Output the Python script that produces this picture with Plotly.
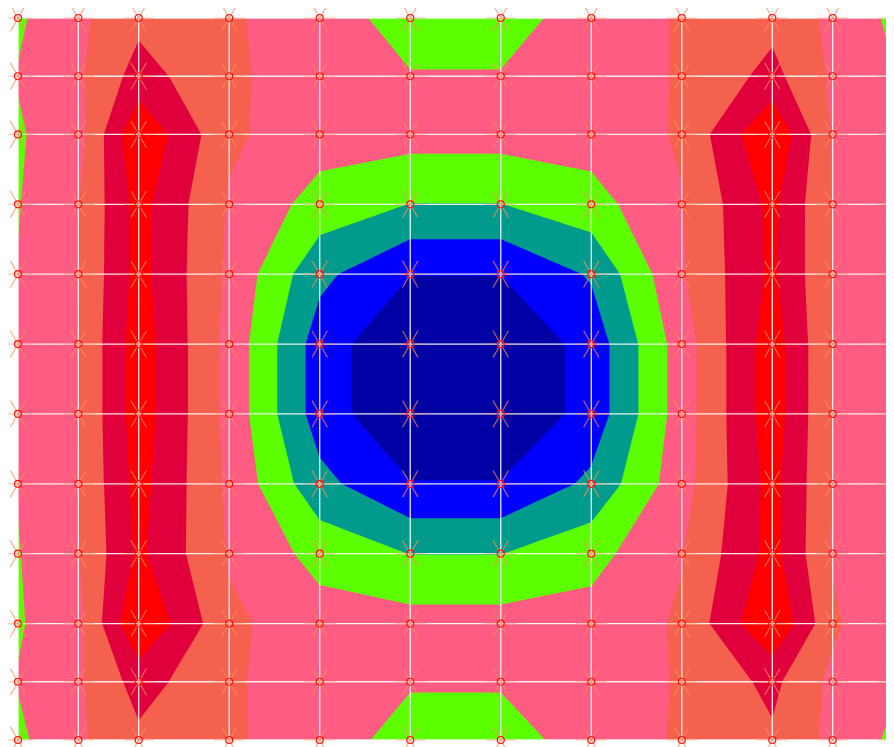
import plotly.graph_objects as go

# grid coordinates (columns left->right, rows top->bottom)
x_vals = [0, 1, 2, 3.5, 5, 6.5, 8, 9.5, 11, 12.5, 13.5, 14.5]
y_vals = [0, 1, 2, 3.2, 4.4, 5.6, 6.8, 8, 9.2, 10.4, 11.4, 12.4]

row0 = [3.85, 4.8, 5.75, 5.15, 4.36, 3.69, 3.7, 4.33, 5.11, 5.7, 4.79, 3.8]
row1 = [4.05, 4.85, 6.4, 5.2, 4.4, 4.04, 4.04, 4.4, 5.1, 6.3, 4.84, 4.05]
row2 = [3.9, 4.6, 7.9, 5.16, 4.45, 4.39, 4.39, 4.45, 5.1, 8.0, 4.9, 3.9]
row3 = [3.95, 4.95, 7.35, 4.9, 3.6, 2.98, 2.98, 3.6, 4.95, 7.25, 4.95, 3.98]
row4 = [4.05, 5.0, 7.35, 4.8, 2.25, 1.02, 1.02, 2.11, 4.9, 7.2, 4.98, 4.02]
row5 = [4.1, 4.97, 7.55, 4.7, 1.5, 0.1, 0.1, 1.37, 4.5, 7.55, 4.95, 4.1]
row6 = [4.1, 4.97, 7.55, 4.7, 1.5, 0.1, 0.1, 1.37, 4.5, 7.55, 4.95, 4.1]
row7 = [4.05, 5.0, 7.35, 4.8, 2.3, 1.05, 1.05, 2.21, 4.6, 7.35, 4.98, 4.05]
row8 = [3.95, 4.95, 7.2, 4.9, 3.65, 2.98, 2.98, 3.65, 4.95, 7.35, 4.9, 3.95]
row9 = [3.9, 4.7, 8.0, 5.2, 4.43, 4.38, 4.38, 4.4, 5.12, 8.0, 5.2, 3.95]
row10 = [4.05, 4.85, 6.4, 5.2, 4.2, 4.08, 4.08, 4.3, 5.11, 6.25, 4.75, 4.1]
row11 = [3.8, 4.85, 5.8, 5.15, 4.45, 3.65, 3.65, 4.36, 5.13, 5.85, 4.75, 3.82]
z_rows = [row0, row1, row2, row3, row4, row5, row6, row7, row8, row9, row10, row11]

band_colors = ["#0000A5", "#0000FF", "#009B8C", "#5BFF00",
               "#FF5C84", "#F4614F", "#E0003B", "#FF0000"]

n = len(band_colors)
colorscale = []
for i, c in enumerate(band_colors):
    colorscale.append([i / n, c])
    colorscale.append([(i + 1) / n, c])

fig = go.Figure()
fig.add_trace(go.Contour(
    x=x_vals, y=y_vals, z=z_rows,
    zmin=0, zmax=8,
    colorscale=colorscale,
    contours=dict(start=1, end=7, size=1, coloring="fill"),
    line=dict(width=0, smoothing=0),
    showscale=False,
    hoverinfo="skip",
))

# grid lines
gx, gy = [], []
for xv in x_vals:
    gx += [xv, xv, None]
    gy += [y_vals[0], y_vals[-1], None]
for yv in y_vals:
    gx += [x_vals[0], x_vals[-1], None]
    gy += [yv, yv, None]
fig.add_trace(go.Scatter(x=gx, y=gy, mode="lines",
                         line=dict(color="rgba(255,255,255,0.9)", width=1.3),
                         hoverinfo="skip", showlegend=False))

px = [xv for yv in y_vals for xv in x_vals]
py = [yv for yv in y_vals for xv in x_vals]
arm_color = "rgba(255,140,90,0.7)"
for sym, ang in [("line-ns", 30), ("line-ns", -30)]:
    fig.add_trace(go.Scatter(
        x=px, y=py, mode="markers", cliponaxis=False, hoverinfo="skip",
        showlegend=False,
        marker=dict(symbol=sym, angle=ang, size=22,
                    line=dict(color=arm_color, width=1.2)),
    ))
fig.add_trace(go.Scatter(
    x=px, y=py, mode="markers", cliponaxis=False, hoverinfo="skip",
    showlegend=False,
    marker=dict(symbol="line-ew", size=22,
                line=dict(color="rgba(255,140,90,0.45)", width=1.2)),
))
fig.add_trace(go.Scatter(
    x=px, y=py, mode="markers", cliponaxis=False, hoverinfo="skip",
    showlegend=False,
    marker=dict(symbol="circle-open", size=7, color="#FF1010",
                line=dict(color="#FF1010", width=1.2)),
))

fig.update_layout(
    width=886, height=739,
    margin=dict(l=10, r=1, t=10, b=7),
    paper_bgcolor="white", plot_bgcolor="white",
    showlegend=False,
    xaxis=dict(range=[x_vals[0], x_vals[-1]], showgrid=False, zeroline=False,
               showticklabels=False, ticks="", showline=False),
    yaxis=dict(range=[y_vals[-1], y_vals[0]], showgrid=False, zeroline=False,
               showticklabels=False, ticks="", showline=False),
)
fig.write_html("out.html")
